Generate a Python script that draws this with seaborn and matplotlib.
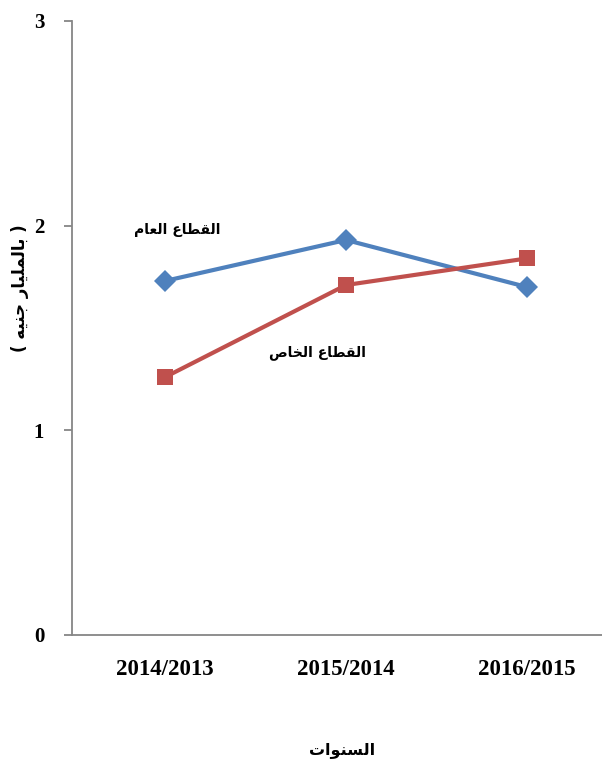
import matplotlib
matplotlib.use("Agg")
import matplotlib.pyplot as plt
import seaborn as sns
import pandas as pd

# ---- data ----
years = ["2014/2013", "2015/2014", "2016/2015"]
public_sector = [1.73, 1.93, 1.70]
private_sector = [1.26, 1.71, 1.84]
label_public = "القطاع العام"
label_private = "القطاع الخاص"
x_title = "السنوات"
y_title = "( بالمليار جنيه )"
y_ticks = [0, 1, 2, 3]

# ---- minimal Arabic shaping (matplotlib has no complex text layout) ----
FORMS = {
    '\u0627': ('\uFE8D', '\uFE8E', None, None),
    '\u0628': ('\uFE8F', '\uFE90', '\uFE91', '\uFE92'),
    '\u062A': ('\uFE95', '\uFE96', '\uFE97', '\uFE98'),
    '\u062C': ('\uFE9D', '\uFE9E', '\uFE9F', '\uFEA0'),
    '\u062E': ('\uFEA5', '\uFEA6', '\uFEA7', '\uFEA8'),
    '\u0631': ('\uFEAD', '\uFEAE', None, None),
    '\u0633': ('\uFEB1', '\uFEB2', '\uFEB3', '\uFEB4'),
    '\u0635': ('\uFEB9', '\uFEBA', '\uFEBB', '\uFEBC'),
    '\u0637': ('\uFEC1', '\uFEC2', '\uFEC3', '\uFEC4'),
    '\u0639': ('\uFEC9', '\uFECA', '\uFECB', '\uFECC'),
    '\u0642': ('\uFED5', '\uFED6', '\uFED7', '\uFED8'),
    '\u0644': ('\uFEDD', '\uFEDE', '\uFEDF', '\uFEE0'),
    '\u0645': ('\uFEE1', '\uFEE2', '\uFEE3', '\uFEE4'),
    '\u0646': ('\uFEE5', '\uFEE6', '\uFEE7', '\uFEE8'),
    '\u0647': ('\uFEE9', '\uFEEA', '\uFEEB', '\uFEEC'),
    '\u0648': ('\uFEED', '\uFEEE', None, None),
    '\u064A': ('\uFEF1', '\uFEF2', '\uFEF3', '\uFEF4'),
}
MIRROR = {'(': ')', ')': '('}


def shape(s):
    out = []
    for i, c in enumerate(s):
        if c not in FORMS:
            out.append(c)
            continue
        f = FORMS[c]
        prev = s[i - 1] if i > 0 else ''
        nxt = s[i + 1] if i + 1 < len(s) else ''
        jp = prev in FORMS and FORMS[prev][2] is not None
        jn = f[2] is not None and nxt in FORMS
        if jp and jn:
            out.append(f[3])
        elif jp:
            out.append(f[1])
        elif jn:
            out.append(f[2])
        else:
            out.append(f[0])
    return ''.join(MIRROR.get(c, c) for c in reversed(out))


df = pd.DataFrame({
    "year": years * 2,
    "value": public_sector + private_sector,
    "sector": [label_public] * 3 + [label_private] * 3,
})

sns.set_theme(style="white")
plt.rcParams['font.family'] = ['Liberation Serif', 'DejaVu Sans']

fig = plt.figure(figsize=(6.02, 7.66), dpi=100)
ax = fig.add_axes([72 / 602, 131 / 766, 1 - 72 / 602, (635 - 21) / 766])

blue = "#4F81BD"
red = "#C0504D"
sns.lineplot(data=df, x="year", y="value", hue="sector", style="sector",
             palette={label_public: blue, label_private: red},
             markers={label_public: "D", label_private: "s"},
             dashes=False, linewidth=3, markersize=11.5,
             markeredgewidth=0, ax=ax, legend=False, sort=False)

ax.set_ylim(0, 3)
ax.set_xlim(-0.514, 2.414)
ax.set_yticks(y_ticks)
ax.set_yticklabels([str(t) for t in y_ticks], fontsize=15, fontweight="bold",
                   family="Liberation Serif", color="black")
ax.set_xticks(range(len(years)))
ax.set_xticklabels(years, fontsize=16.5, fontweight="bold",
                   family="Liberation Serif", color="black")
ax.tick_params(axis="y", left=True, length=6, width=1.3, color="#868686", pad=14)
ax.tick_params(axis="x", bottom=False, pad=11)

for side in ["top", "right"]:
    ax.spines[side].set_visible(False)
for side in ["left", "bottom"]:
    ax.spines[side].set_color("#868686")
    ax.spines[side].set_linewidth(1.3)
ax.grid(False)

ax.set_xlabel("")
ax.set_ylabel("")
arfont = dict(family="DejaVu Sans", fontweight="bold", color="black")
fig.text(342 / 602, 1 - 750 / 766, shape(x_title), ha="center", va="center",
         fontsize=11.5, **arfont)
fig.text(20 / 602, 1 - 288 / 766, shape(y_title), ha="center", va="center",
         rotation=90, fontsize=12, **arfont)

ax.text(0.07, 1.98, shape(label_public), ha="center", va="center",
        fontsize=10, **arfont)
ax.text(0.84, 1.38, shape(label_private), ha="center", va="center",
        fontsize=10, **arfont)

fig.savefig("out.png", dpi=100)
